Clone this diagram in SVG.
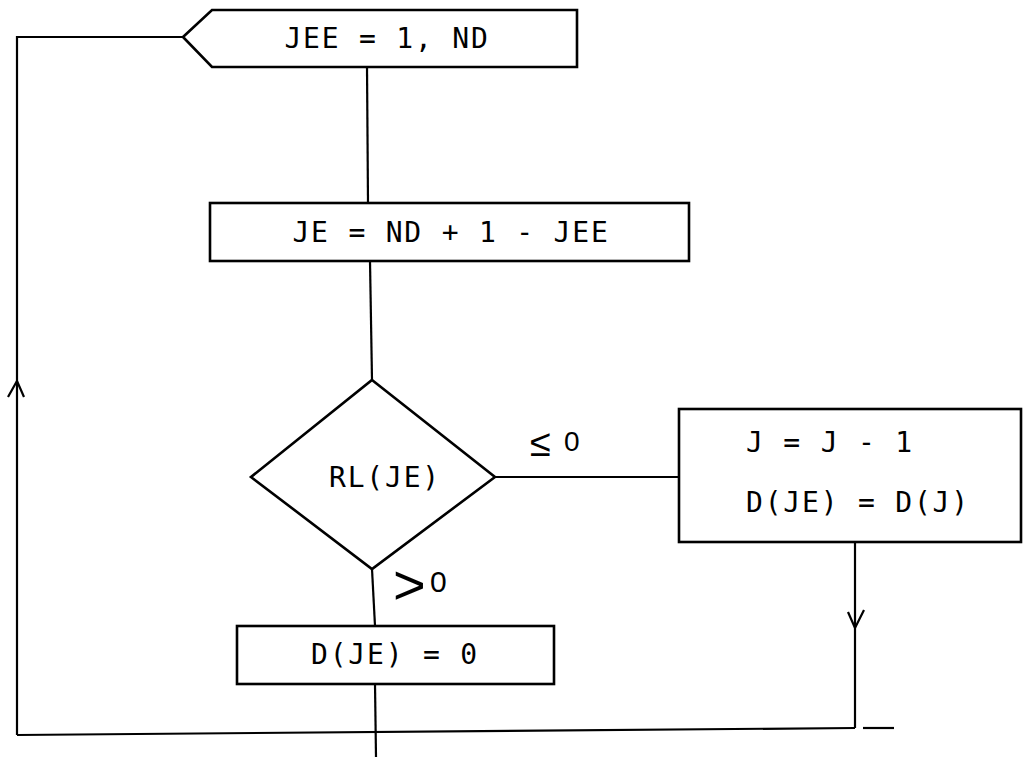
<svg xmlns="http://www.w3.org/2000/svg" width="1023" height="757" viewBox="0 0 1023 757">
<style>
.s{fill:none;stroke:#000;stroke-width:2.6;stroke-linejoin:miter}
.c{fill:none;stroke:#000;stroke-width:2.2}
.t{font-family:"DejaVu Sans Mono","Liberation Mono",monospace;font-size:28px;letter-spacing:1.8px;fill:#000}
.l{font-family:"Liberation Sans","DejaVu Sans",sans-serif;fill:#000}
</style>
<rect width="1023" height="757" fill="#fff"/>
<g id="loop">
<path class="s" d="M183,37 L212,10 L577,10 L577,67 L212,67 Z"/>
<text class="t" x="387" y="48" text-anchor="middle">JEE = 1, ND</text>
</g>
<g id="compute-je">
<rect class="s" x="210" y="203" width="479" height="58"/>
<text class="t" x="451" y="242" text-anchor="middle">JE = ND + 1 - JEE</text>
</g>
<g id="decision">
<path class="s" d="M372,380 L495,477 L372,569 L251,477 Z"/>
<text class="t" x="385" y="487" text-anchor="middle">RL(JE)</text>
</g>
<g id="shift">
<rect class="s" x="679" y="409" width="342" height="133"/>
<text class="t" x="746" y="452">J = J - 1</text>
<text class="t" x="746" y="512">D(JE) = D(J)</text>
</g>
<g id="zero">
<rect class="s" x="237" y="626" width="317" height="58"/>
<text class="t" x="395" y="664" text-anchor="middle">D(JE) = 0</text>
</g>
<g id="connectors">
<path class="c" d="M367,67 L368,203"/>
<path class="c" d="M370,261 L372,380"/>
<path class="c" d="M495,477 L679,477"/>
<path class="c" d="M372,569 L375,626"/>
<path class="c" d="M375,684 L376,757"/>
<path class="c" d="M855,542 L855,728"/>
<path class="c" d="M848,612 L855,628 L864,610"/>
<path class="c" d="M17,735 L855,728"/>
<path class="c" d="M17,735 L17,37 L183,37"/>
<path class="c" d="M8,397 L17,381 L24,397"/>
<path class="c" d="M863,728 L894,728" stroke-width="1.5"/>
<text class="l" x="530" y="456" style="font-size:38px">≤</text>
<text class="l" x="564" y="451" style="font-size:28px">0</text>
<text class="l" x="393" y="604" style="font-size:56px">&gt;</text>
<text class="l" x="430" y="592" style="font-size:30px">0</text>
</g>
</svg>
